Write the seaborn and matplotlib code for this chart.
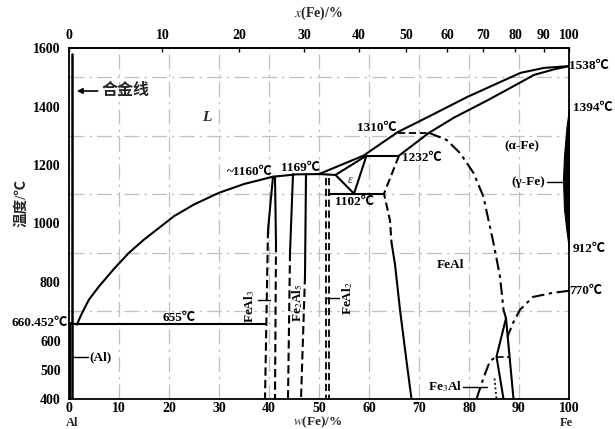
import numpy as np
import matplotlib
matplotlib.use("Agg")
import matplotlib.pyplot as plt
from matplotlib.transforms import blended_transform_factory
from matplotlib.ticker import FixedLocator, MultipleLocator
import seaborn as sns

# ---- axes ticks ----
w_ticks = [0, 10, 20, 30, 40, 50, 60, 70, 80, 90, 100]      # mass %
x_ticks = [0, 10, 20, 30, 40, 50, 60, 70, 80, 90, 100]      # atomic %
t_ticks = [400, 500, 600, 800, 1000, 1200, 1400, 1600]

M_FE, M_AL = 55.845, 26.982

# ---- phase boundaries: w(Fe) / % and temperature / degC ----
liq_al_w = [1.6, 2.5, 4, 6, 9, 12, 15, 18, 21, 25, 30, 35, 40.8, 45.5, 50]
liq_al_t = [655, 690, 740, 785, 845, 900, 945, 985, 1025, 1065, 1105, 1135, 1160, 1168, 1169]

liq_fe_w = [50, 58.9, 65.7, 72, 79.7, 85, 90.3, 95, 100]
liq_fe_t = [1169, 1232, 1312, 1366, 1433, 1474, 1515, 1532, 1538]

sol_fe_w = [66, 72, 77, 83.8, 88, 93, 97, 100]
sol_fe_t = [1232, 1310, 1362, 1422, 1461, 1508, 1527, 1538]

melt_al_w = [0, 1.6]
melt_al_t = [660.452, 655]

eut_w = [0, 39.4]
eut_t = [655, 655]

alloy_w = [0.5, 0.5]
alloy_t = [1580, 400]

al_ss_w = [0.12, 0.12]
al_ss_t = [660.452, 400]

feal3_l_w = [40.8, 39.8, 39.2]
feal3_l_t = [1160, 978, 400]
feal3_r_w = [41.2, 41.4, 41.2]
feal3_r_t = [1160, 930, 400]

fe2al5_l_w = [44.8, 44.2, 43.8]
fe2al5_l_t = [1169, 900, 400]
fe2al5_r_w = [47.4, 47.2, 46.4]
fe2al5_r_t = [1169, 820, 400]

feal2_a_w = [51.3, 51.3]
feal2_b_w = [52.0, 52.0]
feal2_t = [1156, 400]

eps_w = [50, 53.3, 59.5, 57.0, 53.3]
eps_t = [1169, 1166, 1232, 1102, 1166]

peri_w = [58.9, 66]
peri_t = [1232, 1232]

eutd_w = [52.0, 63]
eutd_t = [1102, 1102]

feal_dash_w = [66, 63, 64.2, 64.5]
feal_dash_t = [1232, 1102, 1010, 935]
feal_solid_w = [64.5, 65.2, 66.2, 67.5, 68.5]
feal_solid_t = [935, 860, 705, 530, 400]

b2_top_w = [65.8, 72]
b2_top_t = [1310, 1310]
b2_w = [72, 75.5, 78.2, 80.9, 82.9, 83.6, 84.9, 86.2, 86.9, 87.4]
b2_t = [1310, 1286, 1241, 1173, 1091, 1035, 933, 819, 705, 676]

fe3al_l_w = [87.4, 85.5, 86.9]
fe3al_l_t = [676, 545, 400]
fe3al_r_w = [87.4, 88.9]
fe3al_r_t = [676, 400]

mag_w = [100, 96.8, 92.8, 90.2, 88.8, 87.7]
mag_t = [770, 763, 749, 705, 660, 613]

d03_w = [81.5, 82.9, 84.2, 85.5]
d03_t = [400, 472, 530, 545]

d03_top_w = [85.5, 88.1]
d03_top_t = [545, 545]

d03_dot_w = [85.1, 85.5]
d03_dot_t = [470, 400]

gamma_w = [100, 99.5, 99.0, 98.8, 99.0, 99.5, 100]
gamma_t = [1394, 1330, 1230, 1150, 1050, 975, 912]


def wt2at(w):
    w = np.asarray(w, dtype=float)
    with np.errstate(divide="ignore", invalid="ignore"):
        a = w / M_FE
        b = (100 - w) / M_AL
        return 100 * a / (a + b)


def at2wt(x):
    x = np.asarray(x, dtype=float)
    with np.errstate(divide="ignore", invalid="ignore"):
        a = x * M_FE
        b = (100 - x) * M_AL
        return 100 * a / (a + b)


sns.set_theme(style="white")
plt.rcParams["font.family"] = ["Liberation Serif", "Noto Sans CJK SC", "DejaVu Sans"]
plt.rcParams["mathtext.fontset"] = "stix"
plt.rcParams["axes.unicode_minus"] = False

W, H = 615, 429
fig = plt.figure(figsize=(W / 100, H / 100), dpi=100)
fig.patch.set_facecolor("white")
ax = fig.add_axes([69 / W, 1 - 399 / H, 500 / W, 351 / H])
ax.set_facecolor("white")

ax.set_xlim(0, 100)
ax.set_ylim(400, 1600)

# background graph-paper grid
grid_kw = dict(color="#cdbcb3", linewidth=0.9, linestyle=(0, (12, 4, 2, 4)))
ax.xaxis.set_major_locator(FixedLocator(w_ticks))
ax.yaxis.set_major_locator(FixedLocator(t_ticks))
ax.yaxis.set_minor_locator(MultipleLocator(100))
ax.grid(False)
ax.grid(True, which="major", axis="x", **grid_kw)
ax.grid(True, which="minor", axis="y", **grid_kw)
ax.set_axisbelow(True)


def curve(w, t, ls="-", lw=1.5):
    sns.lineplot(x=w, y=t, sort=False, estimator=None, ax=ax, color="black",
                 linewidth=lw, linestyle=ls, legend=False)


dash = (0, (4, 2))
dashdot = (0, (6, 2.2, 1.6, 2.2))

# liquid, solidus, invariants
curve(liq_al_w, liq_al_t)
curve(liq_fe_w, liq_fe_t)
curve(sol_fe_w, sol_fe_t)
curve(melt_al_w, melt_al_t)
curve(eut_w, eut_t)
curve(alloy_w, alloy_t, lw=1.8)
curve(al_ss_w, al_ss_t, lw=1.5)
curve(eps_w, eps_t)
curve(peri_w, peri_t)
curve(eutd_w, eutd_t)

# intermetallic phase fields (solid near the top, dashed further down)
curve(feal3_l_w[:2], feal3_l_t[:2])
curve(feal3_l_w[1:], feal3_l_t[1:], ls=dash)
curve(feal3_r_w[:2], feal3_r_t[:2])
curve(feal3_r_w[1:], feal3_r_t[1:], ls=dash)
curve(fe2al5_l_w[:2], fe2al5_l_t[:2])
curve(fe2al5_l_w[1:], fe2al5_l_t[1:], ls=dash)
curve(fe2al5_r_w[:2], fe2al5_r_t[:2])
curve(fe2al5_r_w[1:], fe2al5_r_t[1:], ls=dash)
curve(feal2_a_w, feal2_t, ls=dash, lw=1.3)
curve(feal2_b_w, feal2_t, ls=dash, lw=1.3)

# FeAl field
curve(feal_dash_w, feal_dash_t, ls=dash)
curve(feal_solid_w, feal_solid_t)
curve(b2_top_w, b2_top_t, ls=dash, lw=1.3)
curve(b2_w, b2_t, ls=dashdot)

# Fe-rich side
curve(fe3al_l_w, fe3al_l_t)
curve(fe3al_r_w, fe3al_r_t)
curve(mag_w, mag_t, ls=dashdot)
curve(d03_w, d03_t, ls=dashdot)
curve(d03_top_w, d03_top_t, ls=dash, lw=1.2)
curve(d03_dot_w, d03_dot_t, ls=(0, (1, 1.5)), lw=1.3)
ax.fill_betweenx(gamma_t, gamma_w, 100, color="black", lw=0.8)

# ---- axes decoration ----
for s in ax.spines.values():
    s.set_color("black")
    s.set_linewidth(1.3)

tick_font = dict(fontsize=10, fontweight="bold")
ax.set_xticks(w_ticks)
ax.set_xticklabels([str(v) for v in w_ticks], **tick_font)
ax.set_yticks(t_ticks)
ax.set_yticklabels([str(v) for v in t_ticks], **tick_font)
ax.tick_params(axis="x", which="major", length=0, pad=2, colors="black")
ax.tick_params(axis="y", which="major", length=0, pad=6, colors="black")
ax.tick_params(which="minor", length=0)
ax.set_xlabel("")
ax.set_ylabel("")

secax = ax.secondary_xaxis("top", functions=(wt2at, at2wt))
secax.set_xticks(x_ticks)
secax.set_xticklabels([str(v) for v in x_ticks], **tick_font)
secax.tick_params(direction="in", length=3, width=1.0, pad=4, colors="black")
for s in secax.spines.values():
    s.set_linewidth(1.3)

fig.text(318 / W, 1 - 13 / H, r"$\mathit{x}$(Fe)/%", ha="center", va="center",
         fontsize=10, fontweight="bold")
fig.text(318 / W, 1 - 422 / H, r"$\mathit{w}$(Fe)/%", ha="center", va="center",
         fontsize=9.5, fontweight="bold")
fig.text(72 / W, 1 - 423 / H, "Al", ha="center", va="center", fontsize=9, fontweight="bold")
fig.text(566 / W, 1 - 423 / H, "Fe", ha="center", va="center", fontsize=9, fontweight="bold")
fig.text(21 / W, 1 - 203 / H, "温度/℃", ha="center", va="center", rotation=90,
         fontsize=10.5, fontweight="bold")

lab = dict(fontsize=9.5, fontweight="bold", color="black")
trx = blended_transform_factory(ax.transAxes, ax.transData)

# temperature marks
ax.text(-0.003, 660.452, "660.452℃", ha="right", va="center", transform=trx, **lab)
ax.text(22, 677, "655℃", ha="center", va="center", **lab)
ax.text(36.2, 1176, "~1160℃", ha="center", va="center", **lab)
ax.text(46.2, 1190, "1169℃", ha="center", va="center", **lab)
ax.text(57.1, 1074, "1102℃", ha="center", va="center", **lab)
ax.text(66.6, 1224, "1232℃", ha="left", va="center", **lab)
ax.text(65.6, 1327, "1310℃", ha="right", va="center", **lab)
ax.text(1.0, 1538, "1538℃", ha="left", va="center", transform=trx, **lab)
ax.text(1.008, 1394, "1394℃", ha="left", va="center", transform=trx, **lab)
ax.text(1.008, 912, "912℃", ha="left", va="center", transform=trx, **lab)
ax.text(1.0, 770, "770℃", ha="left", va="center", transform=trx, **lab)

# phase names
ax.text(27.6, 1361, "L", ha="center", va="center", fontsize=11, fontstyle="italic",
        fontweight="bold")
ax.text(56.2, 1149, "ε", ha="center", va="center", fontsize=9, fontstyle="italic")
ax.text(76.2, 859, "FeAl", ha="center", va="center", **lab)
ax.text(90.6, 1265, "(α-Fe)", ha="center", va="center", **lab)
ax.text(91.8, 1142, "(γ-Fe)", ha="center", va="center", **lab)
curve([95.6, 98.9], [1142, 1142], lw=1.0)
ax.text(4.0, 544, "(Al)", ha="left", va="center", **lab)
curve([0.5, 3.8], [544, 544], lw=1.0)

ax.text(36.2, 718, r"FeAl$_3$", ha="center", va="center", rotation=90, **lab)
curve([37.8, 40.2], [739, 739], lw=1.0)
ax.text(45.7, 729, r"Fe$_2$Al$_5$", ha="center", va="center", rotation=90, **lab)
ax.text(55.8, 746, r"FeAl$_2$", ha="center", va="center", rotation=90, **lab)
curve([51.6, 54.0], [746, 746], lw=1.0)
ax.text(75.2, 442, r"Fe$_3$Al", ha="center", va="center", **lab)
curve([78.8, 83.6], [442, 442], lw=1.0)

# alloy line callout
ax.annotate("", xy=(1.0, 1453), xytext=(6.3, 1453),
            arrowprops=dict(arrowstyle="-|>", color="black", lw=1.2, mutation_scale=8))
ax.text(6.6, 1453, "合金线", ha="left", va="center", fontsize=11.5, fontweight="bold")

fig.savefig("out.png", dpi=100)
